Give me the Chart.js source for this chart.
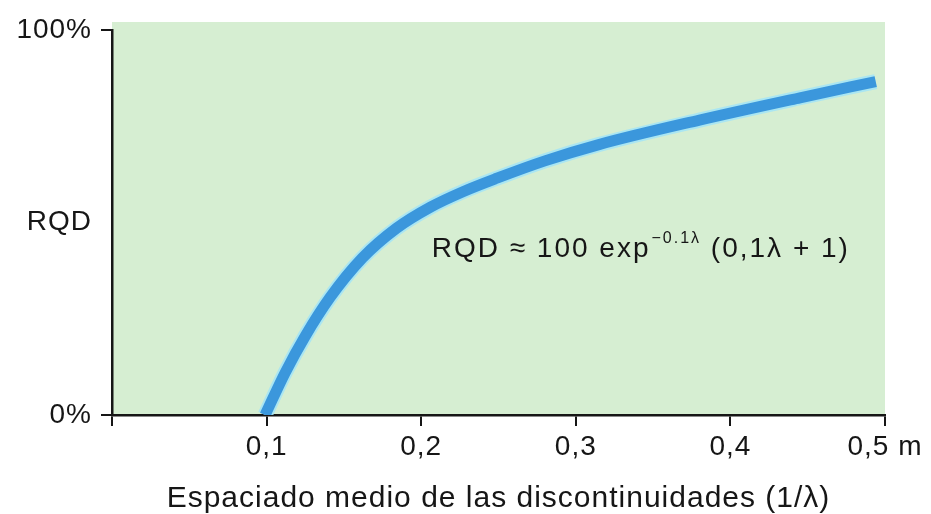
<!DOCTYPE html>
<html>
<head>
<meta charset="utf-8">
<script src="https://cdn.jsdelivr.net/npm/chart.js@4.4.1/dist/chart.umd.min.js"></script>
<style>
  html, body { margin: 0; padding: 0; background: #ffffff; }
  #wrap { width: 931px; height: 514px; }
</style>
</head>
<body>
<div id="wrap"><canvas id="rqdChart" width="931" height="514"></canvas></div>
<script>
// Mean discontinuity spacing (m) and the RQD (%)
const spacing = [0.099, 0.112, 0.125, 0.141, 0.162, 0.184, 0.206, 0.227, 0.249, 0.280, 0.3155, 0.380, 0.445, 0.494];
const rqd     = [0,     11,    20.5,  30.5,  40.8,  48.5,  54,    58,    61.5,  66,    70.3,   76.6,  82.4,  86.6];

// Axis tick labels
const xTickLabels = ['', '0,1', '0,2', '0,3', '0,4', '0,5 m'];
const yTickLabels = ['0%', 'RQD', '100%'];
const xTitle = 'Espaciado medio de las discontinuidades (1/λ)';

// Formula annotation, anchored in data units
const formulaAt = { x: 0.2068, y: 41 };
const formulaParts = ['RQD ≈ 100 exp', '−0.1λ', ' (0,1λ + 1)'];

const FONT = '"Liberation Sans", Arial, Helvetica, sans-serif';
const INK = '#161616';
const PANEL = '#d6eed2';
const CURVE = '#3b97dc';
const HALO = 'rgba(165, 228, 245, 0.9)';
const TRACK = '1px';

const points = spacing.map((x, i) => ({ x: x, y: rqd[i] }));

const textSpacing = {
  id: 'textSpacing',
  beforeUpdate(chart) { chart.ctx.letterSpacing = TRACK; },
  beforeDraw(chart) { chart.ctx.letterSpacing = TRACK; }
};

const panel = {
  id: 'panel',
  beforeDraw(chart) {
    const { ctx, chartArea: a } = chart;
    ctx.save();
    ctx.fillStyle = PANEL;
    ctx.fillRect(a.left, a.top - 8, a.right - a.left, a.bottom - a.top + 8);
    ctx.restore();
  }
};

const formula = {
  id: 'formula',
  afterDraw(chart) {
    const { ctx } = chart;
    const xs = chart.scales.x, ys = chart.scales.y;
    ctx.save();
    ctx.letterSpacing = '2px';
    ctx.fillStyle = INK;
    ctx.textAlign = 'left';
    ctx.textBaseline = 'alphabetic';
    let px = xs.getPixelForValue(formulaAt.x);
    const py = ys.getPixelForValue(formulaAt.y);
    ctx.font = '28px ' + FONT;
    ctx.fillText(formulaParts[0], px, py);
    px += ctx.measureText(formulaParts[0]).width + 1;
    ctx.font = '16px ' + FONT;
    ctx.fillText(formulaParts[1], px, py - 14);
    px += ctx.measureText(formulaParts[1]).width;
    ctx.font = '28px ' + FONT;
    ctx.fillText(formulaParts[2], px, py);
    ctx.restore();
  }
};

new Chart(document.getElementById('rqdChart'), {
  type: 'line',
  data: {
    datasets: [
      {
        data: points,
        borderColor: CURVE,
        borderWidth: 11,
        borderCapStyle: 'butt',
        pointRadius: 0,
        cubicInterpolationMode: 'monotone',
        order: 0
      },
      {
        data: points,
        borderColor: HALO,
        borderWidth: 15,
        borderCapStyle: 'butt',
        pointRadius: 0,
        cubicInterpolationMode: 'monotone',
        order: 1
      }
    ]
  },
  options: {
    responsive: false,
    animation: false,
    devicePixelRatio: 1,
    layout: { padding: { left: 0, right: 46, top: 30, bottom: 0 } },
    plugins: { legend: { display: false }, tooltip: { enabled: false } },
    scales: {
      x: {
        type: 'linear',
        min: 0,
        max: 0.5,
        afterBuildTicks(scale) {
          scale.ticks = xTickLabels.map((_, i) => ({ value: i / 10 }));
        },
        afterFit(scale) {
          scale.height = 99;
          scale.paddingLeft = 0;
          scale.paddingRight = 0;
        },
        grid: {
          display: true,
          drawOnChartArea: false,
          drawTicks: true,
          tickLength: 11,
          color: INK,
          lineWidth: 2
        },
        border: { display: true, color: INK, width: 2.5 },
        ticks: {
          autoSkip: false,
          maxRotation: 0,
          padding: 4,
          color: INK,
          font: { family: FONT, size: 28 },
          callback: (v, i) => xTickLabels[i]
        },
        title: {
          display: true,
          text: xTitle,
          color: INK,
          font: { family: FONT, size: 30, lineHeight: 1.05 },
          padding: { top: 0, bottom: 0 }
        }
      },
      y: {
        min: 0,
        max: 100,
        afterBuildTicks(scale) {
          scale.ticks = yTickLabels.map((_, i) => ({ value: i * 50 }));
        },
        afterFit(scale) { scale.width = 112; },
        grid: {
          display: true,
          drawOnChartArea: false,
          drawTicks: true,
          tickLength: 11,
          lineWidth: 2,
          color: (c) => (c.tick && c.tick.value === 50 ? 'rgba(0,0,0,0)' : INK)
        },
        border: { display: true, color: INK, width: 2.5 },
        ticks: {
          padding: 9,
          color: INK,
          font: { family: FONT, size: 28 },
          callback: (v, i) => yTickLabels[i]
        }
      }
    }
  },
  plugins: [textSpacing, panel, formula]
});
</script>
</body>
</html>
